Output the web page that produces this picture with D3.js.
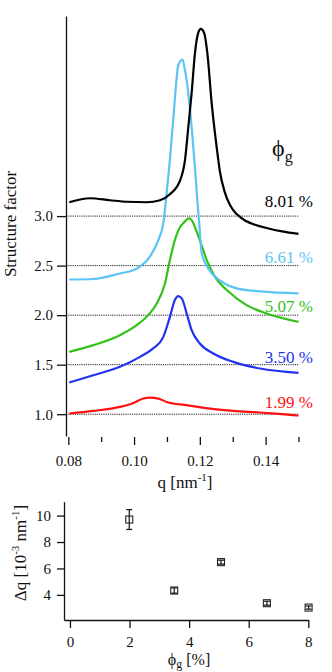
<!DOCTYPE html>
<html>
<head>
<meta charset="utf-8">
<script src="https://cdn.jsdelivr.net/npm/d3@7"></script>
<style>
body { margin: 0; background: #fff; }
svg text { font-family: "Liberation Serif", "Times New Roman", serif; fill: #111; }
</style>
</head>
<body>
<script>
// structure factor curves, one q grid per sample
var q199 = [0.0803, 0.0876, 0.0957, 0.0998, 0.1028, 0.1048, 0.1074, 0.1099, 0.1160, 0.1231, 0.1302, 0.1383, 0.1450, 0.1500];
var s199 = [1.007, 1.033, 1.074, 1.114, 1.158, 1.168, 1.158, 1.124, 1.091, 1.057, 1.033, 1.017, 1.0, 0.987];

var q350 = [0.0803, 0.0876, 0.0957, 0.1018, 0.1058, 0.1089, 0.1109, 0.1124, 0.1134, 0.1145, 0.1160, 0.1175, 0.1200, 0.1241, 0.1302, 0.1383, 0.1500];
var s350 = [1.32, 1.394, 1.478, 1.579, 1.664, 1.781, 1.983, 2.152, 2.192, 2.169, 2.017, 1.848, 1.714, 1.613, 1.528, 1.461, 1.417];

var q507 = [0.0803, 0.0876, 0.0957, 0.1008, 0.1043, 0.1069, 0.1094, 0.1109, 0.1124, 0.1140, 0.1150, 0.1167, 0.1180, 0.1185, 0.1200, 0.1221, 0.1246, 0.1282, 0.1342, 0.1403, 0.1500];
var s507 = [1.629, 1.697, 1.798, 1.899, 2.0, 2.118, 2.32, 2.556, 2.758, 2.89, 2.93, 2.977, 2.93, 2.89, 2.758, 2.556, 2.387, 2.253, 2.101, 2.017, 1.932];

var q661 = [0.0803, 0.0876, 0.0957, 0.1008, 0.1048, 0.1074, 0.1089, 0.1099, 0.1109, 0.1119, 0.1130, 0.1134, 0.1147, 0.1155, 0.1165, 0.1175, 0.1185, 0.1193, 0.1198, 0.1206, 0.1226, 0.1261, 0.1312, 0.1383, 0.1500];
var s661 = [2.36, 2.365, 2.42, 2.47, 2.59, 2.76, 2.93, 3.23, 3.57, 3.97, 4.41, 4.52, 4.58, 4.47, 4.24, 3.90, 3.50, 3.13, 2.93, 2.62, 2.47, 2.35, 2.27, 2.24, 2.22];

var q801 = [0.0803, 0.0866, 0.0927, 0.0978, 0.1038, 0.1079, 0.1109, 0.1140, 0.1155, 0.1165, 0.1175, 0.1185, 0.1195, 0.1203, 0.1213, 0.1223, 0.1236, 0.1251, 0.1261, 0.1275, 0.1292, 0.1312, 0.1340, 0.1370, 0.1403, 0.1450, 0.1500];
var s801 = [3.14, 3.18, 3.16, 3.145, 3.14, 3.16, 3.22, 3.36, 3.57, 3.90, 4.24, 4.64, 4.85, 4.89, 4.85, 4.64, 4.14, 3.70, 3.45, 3.25, 3.11, 3.02, 2.95, 2.91, 2.88, 2.845, 2.82];

var baselines = [1.0, 1.5, 2.0, 2.5, 3.0];
var qTicks = [0.08, 0.10, 0.12, 0.14];
var qMinor = [0.09, 0.11, 0.13, 0.15];

// peak width vs graphite fraction
var phiG = [1.99, 3.50, 5.07, 6.61, 8.01];
var dq = [9.7, 4.33, 6.48, 3.37, 3.04];
var dqErr = [0.75, 0.2, 0.15, 0.15, 0.12];
var phiTicks = [0, 2, 4, 6, 8];
var dqTicks = [4, 6, 8, 10];

var curves = [
  { q: q199, s: s199, phi: phiG[0], color: "#ff1010", labelY: 1.06 },
  { q: q350, s: s350, phi: phiG[1], color: "#2233ee", labelY: 1.52 },
  { q: q507, s: s507, phi: phiG[2], color: "#33c21a", labelY: 2.03 },
  { q: q661, s: s661, phi: phiG[3], color: "#5cc4f2", labelY: 2.53 },
  { q: q801, s: s801, phi: phiG[4], color: "#000000", labelY: 3.09 }
];

var svg = d3.select("body").append("svg")
    .attr("width", 332)
    .attr("height", 672);

// ---- top panel
var x = d3.scaleLinear().domain([0.08, 0.15]).range([68.3, 298.5]);
var y = d3.scaleLinear().domain([0.78, 5.02]).range([436, 16]);

var gTop = svg.append("g");

gTop.selectAll("line.base")
    .data(baselines)
    .enter()
    .append("line")
    .attr("class", "base")
    .attr("x1", 66)
    .attr("x2", x(0.15))
    .attr("y1", function (d) { return y(d); })
    .attr("y2", function (d) { return y(d); })
    .attr("stroke", "#222")
    .attr("stroke-width", 1)
    .attr("stroke-dasharray", "1.2,1");

var yAxis = gTop.append("g")
    .attr("transform", "translate(66,0)")
    .call(d3.axisLeft(y).tickValues(baselines).tickFormat(d3.format(".1f")).tickSize(9).tickSizeOuter(0).tickPadding(4));

var xAxis = gTop.append("g")
    .attr("transform", "translate(0,437)")
    .call(d3.axisBottom(x).tickValues(qTicks).tickFormat(d3.format(".2f")).tickSize(8).tickPadding(10));
xAxis.select(".domain").remove();

gTop.append("g")
    .attr("transform", "translate(0,437)")
    .call(d3.axisBottom(x).tickValues(qMinor).tickFormat("").tickSize(5))
    .select(".domain").remove();

gTop.selectAll(".tick line").attr("stroke", "#111").attr("stroke-width", 1.3);
yAxis.select(".domain").attr("stroke", "#111").attr("stroke-width", 1.3);
gTop.selectAll(".tick text").style("font-size", "15px").style("font-family", "Liberation Serif").attr("fill", "#111");

var line = d3.line()
    .x(function (d) { return x(d[0]); })
    .y(function (d) { return y(d[1]); })
    .curve(d3.curveMonotoneX);

gTop.selectAll("path.curve")
    .data(curves)
    .enter()
    .append("path")
    .attr("class", "curve")
    .attr("d", function (c) { return line(d3.zip(c.q, c.s)); })
    .attr("fill", "none")
    .attr("stroke", function (c) { return c.color; })
    .attr("stroke-width", 2.2)
    .attr("stroke-linejoin", "round");

gTop.selectAll("text.lab")
    .data(curves)
    .enter()
    .append("text")
    .attr("class", "lab")
    .attr("x", 313)
    .attr("y", function (c) { return y(c.labelY); })
    .attr("text-anchor", "end")
    .style("font-size", "17px")
    .style("fill", function (c) { return c.color; })
    .text(function (c) { return d3.format(".2f")(c.phi) + " %"; });

var phiLab = gTop.append("text").attr("x", 272).attr("y", 156).style("font-size", "24px");
phiLab.append("tspan").text("ϕ");
phiLab.append("tspan").attr("dy", 6).style("font-size", "16px").text("g");

gTop.append("text")
    .attr("transform", "translate(16,224) rotate(-90)")
    .attr("text-anchor", "middle")
    .style("font-size", "17px")
    .text("Structure factor");

var qLab = gTop.append("text")
    .attr("x", 185)
    .attr("y", 488)
    .attr("text-anchor", "middle")
    .style("font-size", "17px");
qLab.append("tspan").text("q [nm");
qLab.append("tspan").attr("dy", -7).style("font-size", "11px").text("-1");
qLab.append("tspan").attr("dy", 7).text("]");

// ---- bottom panel
var x2 = d3.scaleLinear().domain([-0.2, 8]).range([64, 308.3]);
var y2 = d3.scaleLinear().domain([2.1, 11.05]).range([620, 501.7]);

var gBot = svg.append("g");

gBot.append("g")
    .attr("transform", "translate(64,0)")
    .call(d3.axisLeft(y2).tickValues(dqTicks).tickSize(7).tickSizeOuter(0).tickPadding(6));

gBot.append("g")
    .attr("transform", "translate(0,620)")
    .call(d3.axisBottom(x2).tickValues(phiTicks).tickSize(8).tickSizeOuter(0).tickPadding(8));

gBot.selectAll(".domain, .tick line").attr("stroke", "#111").attr("stroke-width", 1.3);
gBot.selectAll(".tick text").style("font-size", "15px").style("font-family", "Liberation Serif").attr("fill", "#111");

var pts = gBot.selectAll("g.pt")
    .data(d3.zip(phiG, dq, dqErr))
    .enter()
    .append("g")
    .attr("class", "pt");

pts.append("line")
    .attr("x1", function (d) { return x2(d[0]); })
    .attr("x2", function (d) { return x2(d[0]); })
    .attr("y1", function (d) { return y2(d[1] - d[2]); })
    .attr("y2", function (d) { return y2(d[1] + d[2]); })
    .attr("stroke", "#111").attr("stroke-width", 1.2);
pts.selectAll("line.cap")
    .data(function (d) { return [[d[0], d[1] - d[2]], [d[0], d[1] + d[2]]]; })
    .enter()
    .append("line")
    .attr("class", "cap")
    .attr("x1", function (d) { return x2(d[0]) - 3; })
    .attr("x2", function (d) { return x2(d[0]) + 3; })
    .attr("y1", function (d) { return y2(d[1]); })
    .attr("y2", function (d) { return y2(d[1]); })
    .attr("stroke", "#111").attr("stroke-width", 1.2);
pts.append("rect")
    .attr("x", function (d) { return x2(d[0]) - 3.5; })
    .attr("y", function (d) { return y2(d[1]) - 3.5; })
    .attr("width", 7)
    .attr("height", 7)
    .attr("fill", "none")
    .attr("stroke", "#222")
    .attr("stroke-width", 1.1);

var dqLab = gBot.append("text")
    .attr("transform", "translate(26,553) rotate(-90)")
    .attr("text-anchor", "middle")
    .style("font-size", "17px");
dqLab.append("tspan").text("Δq [10");
dqLab.append("tspan").attr("dy", -7).style("font-size", "11px").text("-3");
dqLab.append("tspan").attr("dy", 7).text(" nm");
dqLab.append("tspan").attr("dy", -7).style("font-size", "11px").text("-1");
dqLab.append("tspan").attr("dy", 7).text("]");

var phiAx = gBot.append("text")
    .attr("x", 189)
    .attr("y", 665)
    .attr("text-anchor", "middle")
    .style("font-size", "16px");
phiAx.append("tspan").text("ϕ");
phiAx.append("tspan").attr("dy", 3).style("font-size", "12px").text("g");
phiAx.append("tspan").attr("dy", -3).text(" [%]");
</script>
</body>
</html>
